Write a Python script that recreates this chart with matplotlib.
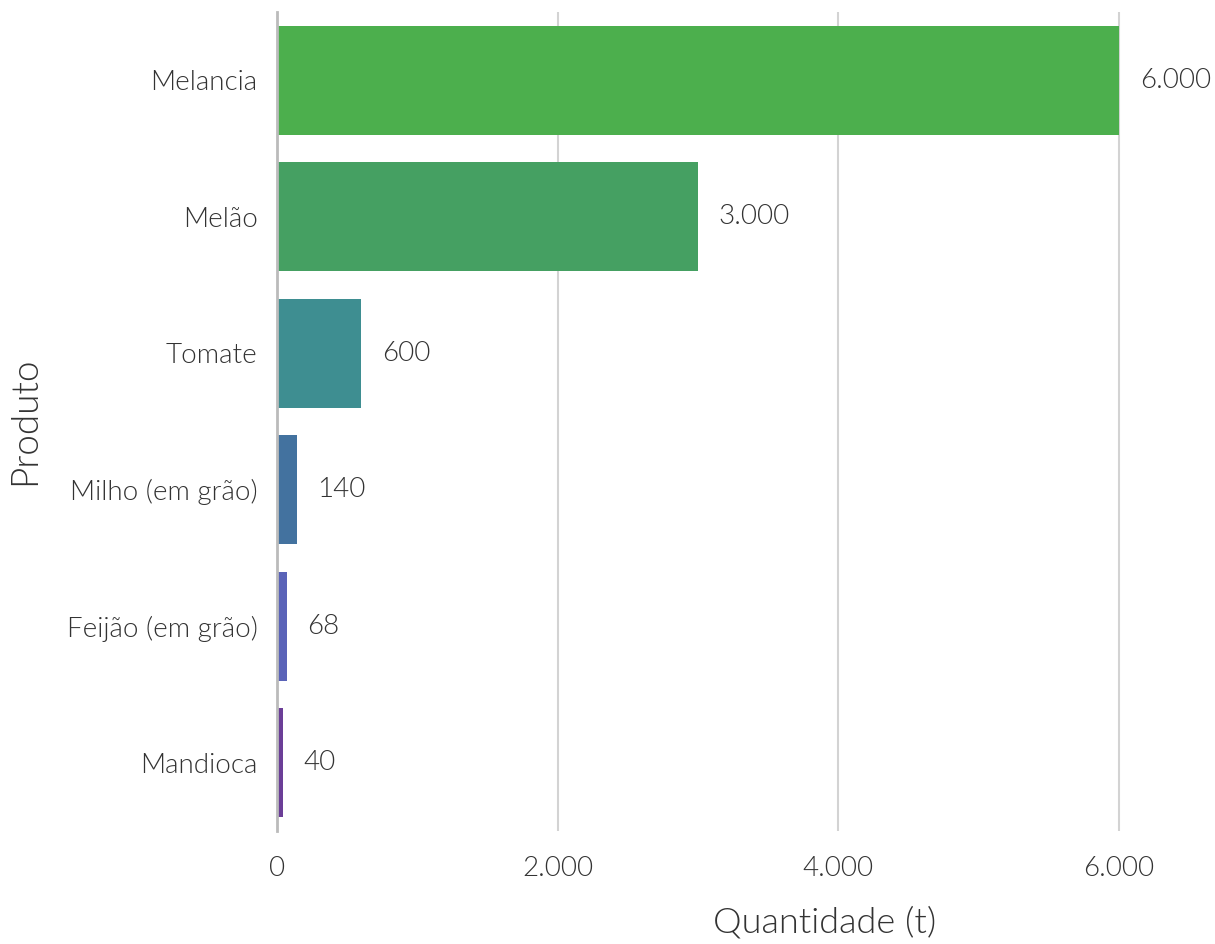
import matplotlib
matplotlib.use("Agg")
import matplotlib.pyplot as plt
from matplotlib.ticker import FuncFormatter

produtos = ["Melancia", "Melão", "Tomate", "Milho (em grão)", "Feijão (em grão)", "Mandioca"]
quantidades = [6000, 3000, 600, 140, 68, 40]
cores = ["#4CAF4D", "#45A062", "#3E8E91", "#43729F", "#5A63B8", "#6B3E97"]
xticks = [0, 2000, 4000, 6000]

plt.rcParams['font.family'] = ['Lato', 'DejaVu Sans']
W = 300  # Lato Light

fig = plt.figure(figsize=(12.15, 9.44), dpi=100)
ax = fig.add_axes([277/1215, 113/944, 884/1215, 819/944])

def fmt(v):
    return f"{int(round(v)):,}".replace(",", ".")

ypos = list(range(len(produtos)))
ax.barh(ypos, quantidades, height=0.8, color=cores, zorder=3)
for y, v in zip(ypos, quantidades):
    ax.annotate(fmt(v), (v, y), xytext=(15, 0), textcoords="offset points",
                ha="left", va="center", fontsize=20, color="#333333",
                fontweight=W)

ax.set_ylim(5.5, -0.5)
ax.set_xlim(0, 6300)
ax.set_yticks(ypos)
ax.set_yticklabels(produtos)
ax.set_xticks(xticks)
ax.xaxis.set_major_formatter(FuncFormatter(lambda v, p: fmt(v)))
ax.tick_params(axis="both", length=0, labelsize=20, colors="#333333")
ax.tick_params(axis="y", pad=14)
ax.tick_params(axis="x", pad=18)
for lab in ax.get_xticklabels() + ax.get_yticklabels():
    lab.set_fontweight(W)

ax.grid(axis="x", color="#d3d3d3", linewidth=1.5, zorder=0)
for s in ["top", "right", "bottom"]:
    ax.spines[s].set_visible(False)
ax.spines["left"].set_color("#bbbbbb")
ax.spines["left"].set_linewidth(2)
ax.spines["left"].set_zorder(4)

fig.text(825/1215, 1 - 922/944, "Quantidade (t)", ha="center", va="center",
         fontsize=26, color="#333333", fontweight=W)
fig.text(25/1215, 1 - 421/944, "Produto", ha="center", va="center",
         rotation=90, fontsize=26.5, color="#333333", fontweight=W)

fig.savefig("out.png", dpi=100)
